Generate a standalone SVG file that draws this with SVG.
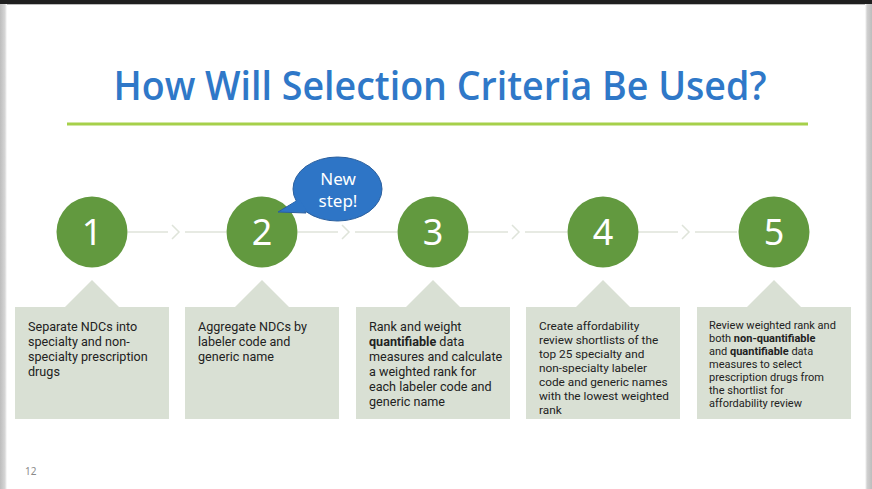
<svg xmlns="http://www.w3.org/2000/svg" width="872" height="489" viewBox="0 0 872 489">
<defs>
<style>
.frame{fill:#c6c6c6}
.circ{fill:#62993f}
.num{font-family:"Segoe UI","Noto Sans","Open Sans",sans-serif;font-size:36px;fill:#ffffff;text-anchor:middle}
.box{fill:#d9e0d4}
.t{font-family:"Segoe UI",Roboto,"Liberation Sans",sans-serif;fill:#222222}
.t1{font-size:12.6px}
.t4{font-size:11.8px}
.t5{font-size:11px}
.b{font-weight:bold}
.conn{fill:none;stroke:#dfe4da;stroke-width:1.5}
</style>
<linearGradient id="lg" x1="0" x2="1" y1="0" y2="0">
<stop offset="0" stop-color="#bdbdbd"/><stop offset="0.7" stop-color="#d6d6d6"/><stop offset="1" stop-color="#ffffff"/>
</linearGradient>
<linearGradient id="rg" x1="0" x2="1" y1="0" y2="0">
<stop offset="0" stop-color="#ffffff"/><stop offset="0.3" stop-color="#d0d0d0"/><stop offset="1" stop-color="#bdbdbd"/>
</linearGradient>
</defs>
<rect width="872" height="489" fill="#ffffff"/>
<rect x="0" y="0" width="7" height="489" fill="url(#lg)"/>
<rect x="865" y="0" width="7" height="489" fill="url(#rg)"/>
<rect x="0" y="0" width="872" height="4" fill="#1f1f1f"/>
<rect x="7" y="4" width="858" height="1" fill="#bbbbbb"/>

<text x="440" y="100" text-anchor="middle" font-family="Segoe UI,Open Sans,Noto Sans,sans-serif" font-weight="600" font-size="40" fill="#2f78c8" textLength="653" lengthAdjust="spacingAndGlyphs">How Will Selection Criteria Be Used?</text>
<rect x="67" y="122.5" width="741" height="3" fill="#a6d04a"/>

<g id="connectors">
<path class="conn" d="M128 232H168M172 225L179 232L172 239M185 232H226"/>
<path class="conn" d="M298 232H338M342 225L349 232L342 239M355 232H397"/>
<path class="conn" d="M468 232H508M512 225L519 232L512 239M525 232H567"/>
<path class="conn" d="M638 232H678M682 225L689 232L682 239M695 232H737"/>
</g>

<g id="node1">
<circle class="circ" cx="92" cy="232" r="35.5"/>
<text class="num" x="92" y="245">1</text>
<path class="box" d="M15 307H65L92 280L119 307H169V419H15Z"/>
<text class="t t1"><tspan x="28" y="331">Separate NDCs into</tspan><tspan x="28" y="346">specialty and non-</tspan><tspan x="28" y="361">specialty prescription</tspan><tspan x="28" y="376">drugs</tspan></text>
</g>

<g id="node2">
<circle class="circ" cx="262" cy="232" r="35.5"/>
<text class="num" x="262" y="245">2</text>
<path class="box" d="M185 307H235L262 280L289 307H339V419H185Z"/>
<text class="t t1"><tspan x="198" y="331">Aggregate NDCs by</tspan><tspan x="198" y="346">labeler code and</tspan><tspan x="198" y="361">generic name</tspan></text>
</g>

<g id="bubble">
<path d="M298 200L278 212L306 213Z" fill="#2e75c6" stroke="#2a5f9e" stroke-width="1"/>
<ellipse cx="337.5" cy="189" rx="44.5" ry="32" fill="#2e75c6" stroke="#2a5f9e" stroke-width="1"/>
<path d="M299 199L283 210L307 211" fill="#2e75c6"/>
<text x="338" y="185" text-anchor="middle" font-family="Segoe UI,Noto Sans,Open Sans,sans-serif" font-size="17" fill="#ffffff">New</text>
<text x="338" y="207" text-anchor="middle" font-family="Segoe UI,Noto Sans,Open Sans,sans-serif" font-size="17" fill="#ffffff">step!</text>
</g>

<g id="node3">
<circle class="circ" cx="433" cy="232" r="35.5"/>
<text class="num" x="433" y="245">3</text>
<path class="box" d="M356 307H406L433 280L460 307H510V419H356Z"/>
<text class="t t1"><tspan x="369" y="331">Rank and weight</tspan><tspan x="369" y="346"><tspan class="b">quantifiable</tspan> data</tspan><tspan x="369" y="361">measures and calculate</tspan><tspan x="369" y="376">a weighted rank for</tspan><tspan x="369" y="391">each labeler code and</tspan><tspan x="369" y="406">generic name</tspan></text>
</g>

<g id="node4">
<circle class="circ" cx="603" cy="232" r="35.5"/>
<text class="num" x="603" y="245">4</text>
<path class="box" d="M526 307H576L603 280L630 307H680V419H526Z"/>
<text class="t t4"><tspan x="539" y="330">Create affordability</tspan><tspan x="539" y="344">review shortlists of the</tspan><tspan x="539" y="358">top 25 specialty and</tspan><tspan x="539" y="372">non-specialty labeler</tspan><tspan x="539" y="386">code and generic names</tspan><tspan x="539" y="400">with the lowest weighted</tspan><tspan x="539" y="414">rank</tspan></text>
</g>

<g id="node5">
<circle class="circ" cx="774" cy="232" r="35.5"/>
<text class="num" x="774" y="245">5</text>
<path class="box" d="M697 307H747L774 280L801 307H851V419H697Z"/>
<text class="t t5"><tspan x="709" y="329">Review weighted rank and</tspan><tspan x="709" y="342">both <tspan class="b">non-quantifiable</tspan></tspan><tspan x="709" y="355">and <tspan class="b">quantifiable</tspan> data</tspan><tspan x="709" y="368">measures to select</tspan><tspan x="709" y="381">prescription drugs from</tspan><tspan x="709" y="394">the shortlist for</tspan><tspan x="709" y="407">affordability review</tspan></text>
</g>

<text x="25" y="475" font-family="Segoe UI,Noto Sans,Open Sans,sans-serif" font-size="10" fill="#8a8a8a">12</text>
</svg>
